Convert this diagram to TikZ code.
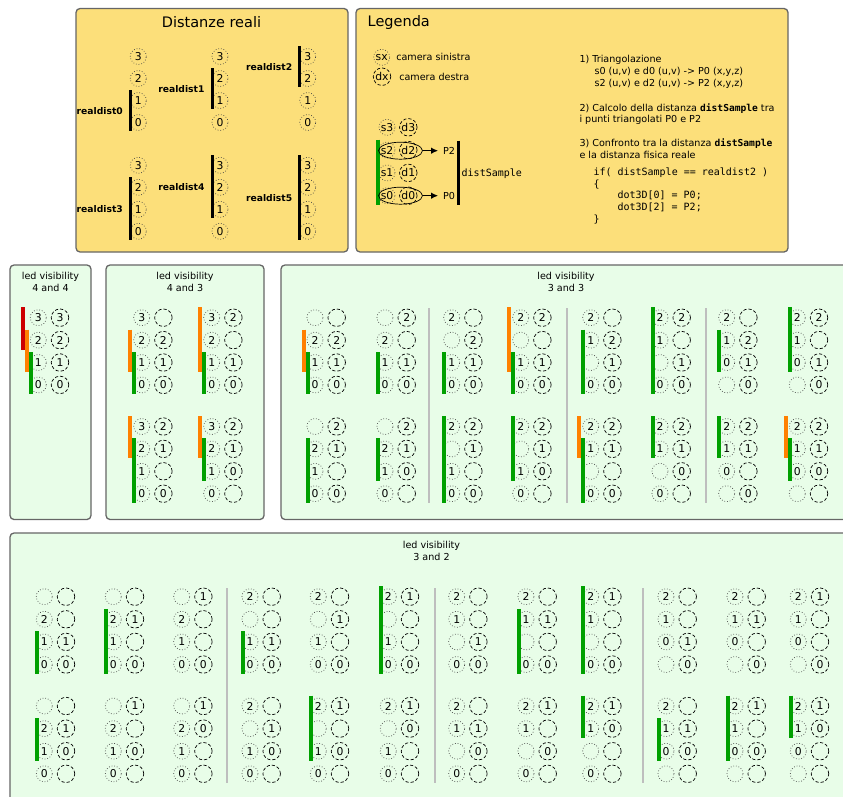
\documentclass[tikz,border=0pt]{standalone}
\usepackage{fontspec}
\setmainfont{DejaVu Sans}
\setmonofont{DejaVu Sans Mono}
\usepackage{tikz}
\usetikzlibrary{arrows, arrows.meta, positioning, shapes}

\definecolor{panelyellow}{RGB}{252,223,122}
\definecolor{panelgreen}{RGB}{232,253,232}
\definecolor{ledgreen}{RGB}{0,160,0}
\definecolor{ledorange}{RGB}{255,128,0}
\definecolor{ledred}{RGB}{205,0,0}
\definecolor{sepgray}{RGB}{190,190,190}

\newcommand{\ledfont}{\fontsize{10.8}{12}\selectfont}
\newcommand{\smallfont}{\fontsize{9.6}{11.7}\selectfont}
\newcommand{\titlefont}{\fontsize{14.5}{17}\selectfont}

\tikzstyle{yellowpanel} = [draw=black!60, line width=1.3pt, fill=panelyellow, rounded corners=4pt]
\tikzstyle{greenpanel} = [draw=black!60, line width=1.3pt, fill=panelgreen, rounded corners=4pt]
\tikzstyle{sxled} = [draw=black!75, dotted, line width=0.7pt, circle, minimum size=16pt,
	inner sep=0pt, font=\ledfont]
\tikzstyle{dxled} = [draw, dash pattern=on 3.2pt off 2pt, line width=0.7pt, circle,
	minimum size=17.5pt, inner sep=0pt, font=\ledfont]
\tikzstyle{greenbar} = [draw=ledgreen, line width=4pt]
\tikzstyle{orangebar} = [draw=ledorange, line width=4pt]
\tikzstyle{redbar} = [draw=ledred, line width=4pt]
\tikzstyle{blackbar} = [draw, line width=3pt]
\tikzstyle{separator} = [draw=sepgray, line width=2pt]
\tikzstyle{distlabel} = [left=6pt, inner sep=0pt, font=\bfseries\fontsize{9.2}{11}\selectfont]
\tikzstyle{paneltitle} = [align=center, inner sep=0pt, font=\smallfont]
\tikzstyle{legitem} = [anchor=west, inner sep=0pt, font=\smallfont]
\tikzstyle{legtext} = [anchor=base west, inner sep=0pt, font=\smallfont]
\tikzstyle{codetext} = [anchor=base west, inner sep=0pt, font=\ttfamily\fontsize{10}{12}\selectfont]
\tikzstyle{line} = [draw, -{Latex[length=7pt, width=6.5pt]}, line width=1pt]

\def\rowsep{22.4}
% one column of leds from top to bottom, -1 = led without number
\newcommand{\ledcol}[5]{%
	\foreach \l [count=\i] in {#5}
		\node[#1] (#2\i) at ({#3}, {#4+\rowsep*(\i-1)}) {\ifnum\l<0 \else\l\fi};
}
% sx and dx columns of one sample
\newcommand{\ledpair}[5]{%
	\ledcol{sxled}{#1s}{#2}{#3}{#4}
	\ledcol{dxled}{#1d}{#2+21.7}{#3}{#5}
}
\newcommand{\ledbar}[5]{%
	\draw[#1] ([xshift=#2, yshift=10.5pt]#3s#4.center) -- ([xshift=#2, yshift=-9.5pt]#3s#5.center);
}
\newcommand{\greenbar}[3]{\ledbar{greenbar}{-7.5pt}{#1}{#2}{#3}}
\newcommand{\orangebar}[3]{\ledbar{orangebar}{-11.5pt}{#1}{#2}{#3}}
\newcommand{\redbar}[3]{\ledbar{redbar}{-15.5pt}{#1}{#2}{#3}}
\newcommand{\distbar}[4]{%
	\draw[blackbar] ([xshift=-8pt, yshift=10pt]#1s#2.center) -- node[distlabel] (#1lab) {#4}
		([xshift=-8pt, yshift=-9pt]#1s#3.center);
}

\begin{document}
\begin{tikzpicture}[x=1pt, y=-1pt]
	\useasboundingbox (0,0) rectangle (843,797);
	\clip (0,0) rectangle (843,797);

	% panels
	\draw[yellowpanel] (76,8.5) rectangle (348,252);
	\draw[yellowpanel] (356,8.5) rectangle (788,252);
	\draw[greenpanel] (10,265) rectangle (91,519.5);
	\draw[greenpanel] (106,265) rectangle (264,519.5);
	\draw[greenpanel] (281,265) rectangle (852,519.5);
	\draw[greenpanel] (10,533) rectangle (853,810);

	% Distanze reali
	\node[font=\titlefont, anchor=base] (realtitle) at (211.5,28) {Distanze reali};
	\def\rowsep{22}
	\ledcol{sxled}{rd0s}{138.3}{56.5}{3,2,1,0}
	\ledcol{sxled}{rd1s}{220}{56.5}{3,2,1,0}
	\ledcol{sxled}{rd2s}{307.7}{56.5}{3,2,1,0}
	\ledcol{sxled}{rd3s}{138.3}{165.3}{3,2,1,0}
	\ledcol{sxled}{rd4s}{220}{165.3}{3,2,1,0}
	\ledcol{sxled}{rd5s}{307.7}{165.3}{3,2,1,0}
	\distbar{rd0}{3}{4}{realdist0}
	\distbar{rd1}{2}{3}{realdist1}
	\distbar{rd2}{1}{2}{realdist2}
	\distbar{rd3}{2}{4}{realdist3}
	\distbar{rd4}{1}{3}{realdist4}
	\distbar{rd5}{1}{4}{realdist5}

	% Legenda
	\node[font=\titlefont, anchor=base west, inner sep=0pt] (legtitle) at (367.5,27) {Legenda};
	\node[sxled] (lsx) at (381.7,57.3) {sx};
	\node[dxled] (ldx) at (382,76.7) {dx};
	\node[legitem, right=6pt of lsx] (lsxtext) {camera sinistra};
	\node[legitem, right=8pt of ldx] (ldxtext) {camera destra};
	\foreach \i in {0,...,3} {
		\node[sxled] (ls\i) at (387, 195.7-22.8*\i) {s\i};
		\node[dxled] (ld\i) at (408.3, 195.7-22.8*\i) {d\i};
	}
	\draw[greenbar] ([xshift=-9pt, yshift=10.5pt]ls2.center) -- ([xshift=-9pt, yshift=-9.5pt]ls0.center);
	\node[draw, ellipse, minimum width=44pt, minimum height=17pt, inner sep=0pt, line width=0.7pt] (e2) at (400.5,150.7) {};
	\node[draw, ellipse, minimum width=44pt, minimum height=17pt, inner sep=0pt, line width=0.7pt] (e0) at (400.5,195.7) {};
	\node[legitem] (p2) at (443,150.7) {P2};
	\node[legitem] (p0) at (443,195.7) {P0};
	\path[line, shorten >=5pt] (e2) -- (p2);
	\path[line, shorten >=5pt] (e0) -- (p0);
	\draw[blackbar] ([xshift=3.5pt, yshift=10pt]p2.east) -- ([xshift=3.5pt, yshift=-9pt]p0.east);
	\node[codetext, anchor=west] (dist) at (461.5,173.3) {distSample};

	\node[legtext] (step1) at (579.3,63) {1) Triangolazione};
	\node[legtext] (tri0) at (594.3,74.7) {s0 (u,v) e d0 (u,v) -> P0 (x,y,z)};
	\node[legtext] (tri2) at (594.3,86.4) {s2 (u,v) e d2 (u,v) -> P2 (x,y,z)};
	\node[legtext] (step2) at (579.3,111.3) {2) Calcolo della distanza \texttt{\bfseries distSample} tra};
	\node[legtext] (step2b) at (579.3,123) {i punti triangolati P0 e P2};
	\node[legtext] (step3) at (579.3,146.3) {3) Confronto tra la distanza \texttt{\bfseries distSample}};
	\node[legtext] (step3b) at (579.3,158) {e la distanza fisica reale};
	\node[codetext] (code1) at (593.3,175.5) {if( distSample == realdist2 )};
	\node[codetext] (code2) at (593.3,187.2) {\{};
	\node[codetext] (code3) at (617.3,198.9) {dot3D[0] = P0;};
	\node[codetext] (code4) at (617.3,210.6) {dot3D[2] = P2;};
	\node[codetext] (code5) at (593.3,222.3) {\}};

	% led visibility 4 and 4, 4 and 3
	\def\rowsep{22.4}
	\node[paneltitle] (t44) at (50.5,282) {led visibility\\4 and 4};
	\node[paneltitle] (t43) at (185,282) {led visibility\\4 and 3};
	\ledpair{a}{38.3}{317.7}{3,2,1,0}{3,2,1,0}
	\redbar{a}{1}{2}
	\orangebar{a}{2}{3}
	\greenbar{a}{3}{4}
	\ledpair{b1}{141.7}{317.7}{3,2,1,0}{-1,2,1,0}
	\ledpair{b2}{211.7}{317.7}{3,2,1,0}{2,-1,1,0}
	\ledpair{b3}{141.7}{426.5}{3,2,1,0}{2,1,-1,0}
	\ledpair{b4}{211.7}{426.5}{3,2,1,0}{2,1,0,-1}
	\orangebar{b1}{2}{3}
	\greenbar{b1}{3}{4}
	\orangebar{b2}{1}{3}
	\greenbar{b2}{3}{4}
	\orangebar{b3}{1}{2}
	\greenbar{b3}{2}{4}
	\orangebar{b4}{1}{2}
	\greenbar{b4}{2}{3}

	% led visibility 3 and 3
	\node[paneltitle] (t33) at (566,282) {led visibility\\3 and 3};
	\ledpair{c1}{315}{317.7}{-1,2,1,0}{-1,2,1,0}
	\ledpair{c2}{385}{317.7}{-1,2,1,0}{2,-1,1,0}
	\ledpair{c3}{451.7}{317.7}{2,-1,1,0}{-1,2,1,0}
	\ledpair{c4}{520.7}{317.7}{2,-1,1,0}{2,-1,1,0}
	\ledpair{c5}{590.7}{317.7}{2,1,-1,0}{-1,2,1,0}
	\ledpair{c6}{660}{317.7}{2,1,-1,0}{2,-1,1,0}
	\ledpair{c7}{726.7}{317.7}{2,1,0,-1}{-1,2,1,0}
	\ledpair{c8}{797.3}{317.7}{2,1,0,-1}{2,-1,1,0}
	\ledpair{c9}{315}{426.5}{-1,2,1,0}{2,1,-1,0}
	\ledpair{c10}{385}{426.5}{-1,2,1,0}{2,1,0,-1}
	\ledpair{c11}{451.7}{426.5}{2,-1,1,0}{2,1,-1,0}
	\ledpair{c12}{520.7}{426.5}{2,-1,1,0}{2,1,0,-1}
	\ledpair{c13}{590.7}{426.5}{2,1,-1,0}{2,1,-1,0}
	\ledpair{c14}{660}{426.5}{2,1,-1,0}{2,1,0,-1}
	\ledpair{c15}{726.7}{426.5}{2,1,0,-1}{2,1,-1,0}
	\ledpair{c16}{797.3}{426.5}{2,1,0,-1}{2,1,0,-1}
	\orangebar{c1}{2}{3}
	\greenbar{c1}{3}{4}
	\greenbar{c2}{3}{4}
	\greenbar{c3}{3}{4}
	\orangebar{c4}{1}{3}
	\greenbar{c4}{3}{4}
	\greenbar{c5}{2}{4}
	\greenbar{c6}{1}{4}
	\greenbar{c7}{2}{3}
	\greenbar{c8}{1}{3}
	\greenbar{c9}{2}{4}
	\greenbar{c10}{2}{3}
	\greenbar{c11}{1}{4}
	\greenbar{c12}{1}{3}
	\orangebar{c13}{1}{2}
	\greenbar{c13}{2}{4}
	\greenbar{c14}{1}{2}
	\greenbar{c15}{1}{2}
	\orangebar{c16}{1}{2}
	\greenbar{c16}{2}{3}
	\draw[separator] (429,308) -- (429,503);
	\draw[separator] (566.7,308) -- (566.7,503);
	\draw[separator] (705.7,308) -- (705.7,503);

	% led visibility 3 and 2
	\def\rowsep{22.6}
	\node[paneltitle] (t32) at (431.5,551) {led visibility\\3 and 2};
	\ledpair{e1}{44.3}{596.7}{-1,2,1,0}{-1,-1,1,0}
	\ledpair{e2}{113.3}{596.7}{-1,2,1,0}{-1,1,-1,0}
	\ledpair{e3}{181.7}{596.7}{-1,2,1,0}{1,-1,-1,0}
	\ledpair{e4}{250}{596.7}{2,-1,1,0}{-1,-1,1,0}
	\ledpair{e5}{318.3}{596.7}{2,-1,1,0}{-1,1,-1,0}
	\ledpair{e6}{388.3}{596.7}{2,-1,1,0}{1,-1,-1,0}
	\ledpair{e7}{456.7}{596.7}{2,1,-1,0}{-1,-1,1,0}
	\ledpair{e8}{526}{596.7}{2,1,-1,0}{-1,1,-1,0}
	\ledpair{e9}{590.7}{596.7}{2,1,-1,0}{1,-1,-1,0}
	\ledpair{e10}{666}{596.7}{2,1,0,-1}{-1,-1,1,0}
	\ledpair{e11}{735}{596.7}{2,1,0,-1}{-1,1,-1,0}
	\ledpair{e12}{798.3}{596.7}{2,1,0,-1}{1,-1,-1,0}
	\ledpair{e13}{44.3}{706}{-1,2,1,0}{-1,1,0,-1}
	\ledpair{e14}{113.3}{706}{-1,2,1,0}{1,-1,0,-1}
	\ledpair{e15}{181.7}{706}{-1,2,1,0}{1,0,-1,-1}
	\ledpair{e16}{250}{706}{2,-1,1,0}{-1,1,0,-1}
	\ledpair{e17}{318.3}{706}{2,-1,1,0}{1,-1,0,-1}
	\ledpair{e18}{388.3}{706}{2,-1,1,0}{1,0,-1,-1}
	\ledpair{e19}{456.7}{706}{2,1,-1,0}{-1,1,0,-1}
	\ledpair{e20}{526}{706}{2,1,-1,0}{1,-1,0,-1}
	\ledpair{e21}{590.7}{706}{2,1,-1,0}{1,0,-1,-1}
	\ledpair{e22}{666}{706}{2,1,0,-1}{-1,1,0,-1}
	\ledpair{e23}{735}{706}{2,1,0,-1}{1,-1,0,-1}
	\ledpair{e24}{798.3}{706}{2,1,0,-1}{1,0,-1,-1}
	\greenbar{e1}{3}{4}
	\greenbar{e2}{2}{4}
	\greenbar{e4}{3}{4}
	\greenbar{e6}{1}{4}
	\greenbar{e8}{2}{4}
	\greenbar{e9}{1}{4}
	\greenbar{e13}{2}{3}
	\greenbar{e17}{1}{3}
	\greenbar{e21}{1}{2}
	\greenbar{e22}{2}{3}
	\greenbar{e23}{1}{3}
	\greenbar{e24}{1}{2}
	\draw[separator] (226.7,588) -- (226.7,783);
	\draw[separator] (435,588) -- (435,783);
	\draw[separator] (643.3,588) -- (643.3,783);
\end{tikzpicture}
\end{document}
